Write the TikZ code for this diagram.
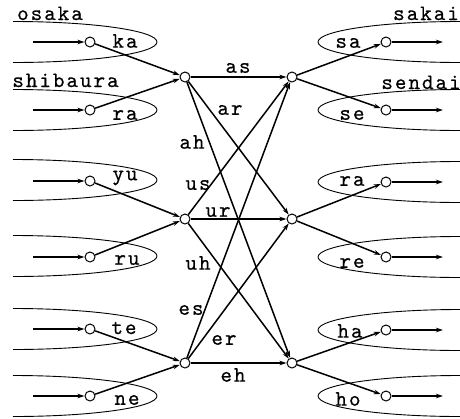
\documentclass[tikz,border=0pt]{standalone}
\usepackage{fontspec}
\usetikzlibrary{arrows.meta}
\newfontfamily\labfam[LetterSpace=9,FakeBold=0.5]{lmmono10-regular.otf}
\newcommand{\labfont}{\labfam\fontsize{22}{22}\selectfont}
\begin{document}
\begin{tikzpicture}[x=1pt,y=1pt,
  lbl/.style={font=\labfont, inner sep=0pt},
  dot/.style={circle, draw, line width=1pt, minimum size=10pt, inner sep=0pt},
  arr/.style={line width=1.5pt, -{Stealth[length=7pt,width=4.5pt]}},
  loopline/.style={line width=0.9pt}]
\useasboundingbox (0,0) rectangle (460,-418);
\clip (0,0) rectangle (460,-418);

% open loops around the word groups
\foreach \cy in {42,110,180,256,329,396}
  \draw[loopline] (13,-\cy+20.5) arc[start angle=90,end angle=-90,x radius=144,y radius=20.5];
\foreach \cy in {42,110,182,257,330,396}
  \draw[loopline] (460,-\cy+20.5) arc[start angle=90,end angle=270,x radius=142,y radius=20.5];

% group names sitting on the loop tops
\node[lbl, anchor=base] (tosaka) at (50,-20) {osaka};
\node[lbl, anchor=base] (tshib) at (65.5,-87) {shibaura};
\node[lbl, anchor=base] (tsakai) at (426,-20) {sakai};
\node[lbl, anchor=base] (tsendai) at (421,-89) {sendai};

% input states
\node[dot] (ika) at (90,-42) {};
\node[dot] (ira) at (90,-110) {};
\node[dot] (iyu) at (90,-181) {};
\node[dot] (iru) at (90,-257) {};
\node[dot] (ite) at (90,-329) {};
\node[dot] (ine) at (90,-396) {};
% inner states
\node[dot] (la) at (185,-77) {};
\node[dot] (lu) at (185,-219) {};
\node[dot] (le) at (185,-363) {};
\node[dot] (rs) at (292,-77) {};
\node[dot] (rr) at (292,-219) {};
\node[dot] (rh) at (292,-363) {};
% output states
\node[dot] (osa) at (386,-42) {};
\node[dot] (ose) at (386,-110) {};
\node[dot] (ora) at (386,-182) {};
\node[dot] (ore) at (386,-257) {};
\node[dot] (oha) at (386,-330) {};
\node[dot] (oho) at (386,-396) {};

% free ends of the input and output arrows
\foreach \n/\y in {ka/42,ra/110,yu/181,ru/257,te/329,ne/396}
  \coordinate (s\n) at (33,-\y);
\foreach \n/\y in {sa/42,se/110,ra/182,re/257,ha/330,ho/396}
  \coordinate (e\n) at (443,-\y);

\foreach \n in {ka,ra,yu,ru,te,ne}
  \draw[arr] (s\n) -- (i\n);
\foreach \n in {sa,se,ra,re,ha,ho}
  \draw[arr] (o\n) -- (e\n);

% into the left inner states
\draw[arr] (ika) -- (la);
\draw[arr] (ira) -- (la);
\draw[arr] (iyu) -- (lu);
\draw[arr] (iru) -- (lu);
\draw[arr] (ite) -- (le);
\draw[arr] (ine) -- (le);

% full connection between inner states
\foreach \a in {la,lu,le}
  \foreach \b in {rs,rr,rh}
    \draw[arr] (\a) -- (\b);

% out of the right inner states
\draw[arr] (rs) -- (osa);
\draw[arr] (rs) -- (ose);
\draw[arr] (rr) -- (ora);
\draw[arr] (rr) -- (ore);
\draw[arr] (rh) -- (oha);
\draw[arr] (rh) -- (oho);

% syllable labels
\node[lbl] (lka) at (125,-41) {ka};
\node[lbl] (lra) at (125,-115) {ra};
\node[lbl] (lyu) at (125,-178) {yu};
\node[lbl] (lru) at (127,-260) {ru};
\node[lbl] (lte) at (124,-328) {te};
\node[lbl] (lne) at (127,-400) {ne};
\node[lbl] (lsa) at (348,-43) {sa};
\node[lbl] (lse) at (352,-115) {se};
\node[lbl] (lra2) at (352,-181) {ra};
\node[lbl] (lre) at (352,-263) {re};
\node[lbl] (lha) at (350,-331) {ha};
\node[lbl] (lho) at (348,-399) {ho};

% transition labels
\node[lbl] (las) at (238,-68) {as};
\node[lbl] (lar) at (230,-110) {ar};
\node[lbl] (lah) at (192,-142) {ah};
\node[lbl] (lus) at (198,-185) {us};
\node[lbl] (lur) at (218,-212) {ur};
\node[lbl] (luh) at (198,-263) {uh};
\node[lbl] (les) at (191,-310) {es};
\node[lbl] (ler) at (224,-340) {er};
\node[lbl] (leh) at (233,-375) {eh};
\end{tikzpicture}
\end{document}
